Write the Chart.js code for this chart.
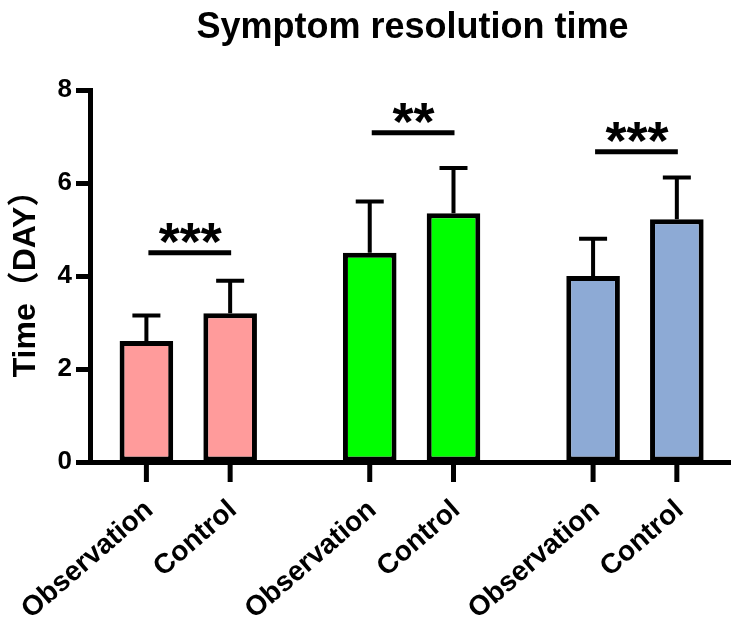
<!DOCTYPE html>
<html>
<head>
<meta charset="utf-8">
<script src="https://cdn.jsdelivr.net/npm/chart.js@4"></script>
<style>
  html, body { margin: 0; padding: 0; background: #fff; }
</style>
</head>
<body>
<canvas id="chart" width="731" height="623"></canvas>
<script>
const barLabels = ['Observation', 'Control'];
const groupColors = ['#FF9B9B', '#00FF00', '#8DAAD5'];
const observationMeans = [2.6, 4.5, 4.0];
const observationSD = [0.55, 1.1, 0.8];
const controlMeans = [3.2, 5.35, 5.22];
const controlSD = [0.7, 0.97, 0.9];
const sigMarks = ['***', '**', '***'];
const sigHeights = [4.5, 7.08, 6.67];
const yTicks = [0, 2, 4, 6, 8];

const FONT = "'Liberation Sans', Arial, 'Noto Sans CJK SC', sans-serif";

function toPoints(values) {
  return values.map((v, i) => ({ x: i, y: v }));
}

// error bars, significance marks, x ticks/labels and title
const extras = {
  id: 'extras',
  afterDatasetsDraw(chart) {
    const ctx = chart.ctx;
    const yScale = chart.scales.y;
    const area = chart.chartArea;
    ctx.save();
    ctx.strokeStyle = '#000';
    ctx.fillStyle = '#000';
    ctx.lineCap = 'butt';

    chart.data.datasets.forEach((ds, di) => {
      chart.getDatasetMeta(di).data.forEach((bar, i) => {
        const top = yScale.getPixelForValue(ds.data[i].y + ds.sd[i]);
        ctx.lineWidth = 4;
        ctx.beginPath();
        ctx.moveTo(bar.x, bar.y);
        ctx.lineTo(bar.x, top);
        ctx.moveTo(bar.x - 14, top);
        ctx.lineTo(bar.x + 14, top);
        ctx.stroke();

        // tick below the axis
        ctx.lineWidth = 5;
        ctx.beginPath();
        ctx.moveTo(bar.x, area.bottom);
        ctx.lineTo(bar.x, area.bottom + 20);
        ctx.stroke();

        // rotated label
        ctx.save();
        ctx.translate(bar.x + 8, area.bottom + 50);
        ctx.rotate(-41 * Math.PI / 180);
        ctx.font = 'bold 28px ' + FONT;
        ctx.textAlign = 'right';
        ctx.textBaseline = 'alphabetic';
        ctx.fillText(barLabels[di], 0, 0);
        ctx.restore();
      });
    });

    // significance lines
    const obs = chart.getDatasetMeta(0).data;
    const ctl = chart.getDatasetMeta(1).data;
    sigMarks.forEach((mark, i) => {
      const yy = yScale.getPixelForValue(sigHeights[i]);
      ctx.lineWidth = 5;
      ctx.beginPath();
      ctx.moveTo(obs[i].x + 2, yy);
      ctx.lineTo(ctl[i].x + 1, yy);
      ctx.stroke();
      ctx.font = 'bold 54px ' + FONT;
      ctx.textAlign = 'center';
      ctx.textBaseline = 'alphabetic';
      ctx.fillText(mark, (obs[i].x + ctl[i].x) / 2 + 2, yy + 7);
    });

    // title
    ctx.font = 'bold 36px ' + FONT;
    ctx.textAlign = 'center';
    ctx.fillText('Symptom resolution time', (area.left + area.right) / 2 + 2, 38);
    ctx.restore();
  }
};

new Chart(document.getElementById('chart'), {
  type: 'bar',
  data: {
    datasets: [
      {
        label: barLabels[0],
        data: toPoints(observationMeans),
        sd: observationSD,
        backgroundColor: groupColors,
        borderColor: '#000',
        borderWidth: 5,
        borderSkipped: false
      },
      {
        label: barLabels[1],
        data: toPoints(controlMeans),
        sd: controlSD,
        backgroundColor: groupColors,
        borderColor: '#000',
        borderWidth: 5,
        borderSkipped: false
      }
    ]
  },
  options: {
    responsive: false,
    animation: false,
    devicePixelRatio: 1,
    categoryPercentage: 0.75,
    barPercentage: 0.64,
    layout: { padding: { top: 90, bottom: 161, left: 0, right: 0 } },
    plugins: {
      legend: { display: false },
      tooltip: { enabled: false },
      title: { display: false }
    },
    scales: {
      x: {
        type: 'linear',
        min: -0.44,
        max: 2.43,
        offset: false,
        grid: { display: false },
        ticks: { display: false },
        border: { display: true, width: 5, color: '#000' },
        afterBuildTicks: scale => { scale.ticks = observationMeans.map((v, i) => ({ value: i })); },
        afterFit: scale => { scale.height = 0; }
      },
      y: {
        min: yTicks[0],
        max: yTicks[yTicks.length - 1],
        afterBuildTicks: scale => { scale.ticks = yTicks.map(v => ({ value: v })); },
        afterFit: scale => { scale.width = 90; },
        grid: {
          display: true,
          drawOnChartArea: false,
          drawTicks: true,
          tickLength: 14,
          tickWidth: 5,
          tickColor: '#000'
        },
        border: { display: true, width: 5, color: '#000' },
        ticks: {
          color: '#000',
          padding: 4,
          font: { family: FONT, size: 26, weight: 'bold' }
        },
        title: {
          display: true,
          text: 'Time（DAY）',
          color: '#000',
          padding: { top: 7, bottom: 0 },
          font: { family: FONT, size: 32, weight: 'bold' }
        }
      }
    }
  },
  plugins: [extras]
});
</script>
</body>
</html>
